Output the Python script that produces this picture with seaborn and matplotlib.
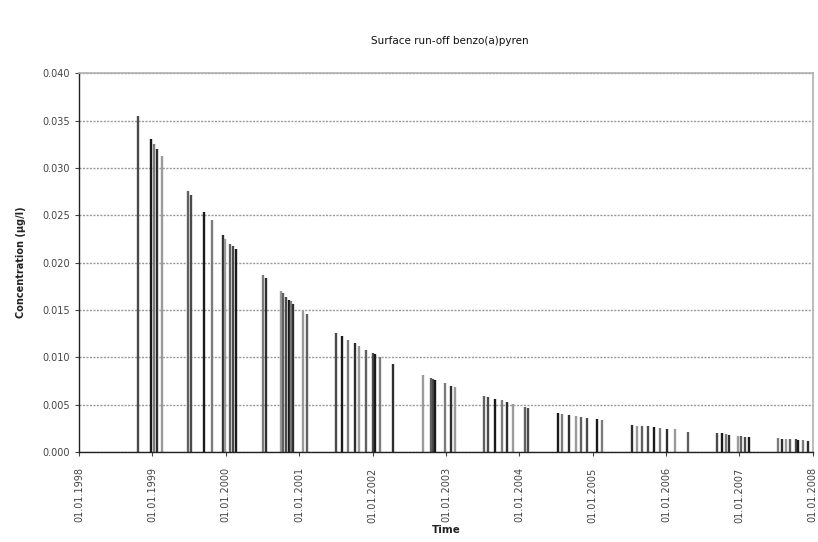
import matplotlib
matplotlib.use('Agg')
import matplotlib.pyplot as plt
import matplotlib.dates as mdates
from matplotlib.ticker import StrMethodFormatter
import seaborn as sns
import pandas as pd
import numpy as np

# Sampling dates and concentrations (ug/l)
dates = [
    '1998-10-20', '1998-12-25', '1999-01-08', '1999-01-26', '1999-02-16',
    '1999-06-26', '1999-07-11', '1999-09-16', '1999-10-23',
    '1999-12-17', '1999-12-28', '2000-01-24', '2000-02-05', '2000-02-21',
    '2000-07-06', '2000-07-19', '2000-10-02', '2000-10-14', '2000-10-27',
    '2000-11-09', '2000-11-21', '2000-12-02', '2001-01-21', '2001-02-07',
    '2001-07-03', '2001-07-31', '2001-08-30', '2001-10-04', '2001-10-27',
    '2001-11-27', '2002-01-01', '2002-01-13', '2002-02-09', '2002-04-14',
    '2002-09-07', '2002-10-17', '2002-10-30', '2002-11-10', '2002-12-27',
    '2003-01-25', '2003-02-15',
    '2003-07-09', '2003-07-31', '2003-09-02', '2003-10-05', '2003-10-30',
    '2003-12-02', '2004-01-29', '2004-02-15',
    '2004-07-12', '2004-08-03', '2004-09-05', '2004-10-09', '2004-11-03',
    '2004-12-01', '2005-01-22', '2005-02-15',
    '2005-07-13', '2005-08-07', '2005-09-01', '2005-10-04', '2005-11-01',
    '2005-12-01', '2006-01-05', '2006-02-14', '2006-04-18',
    '2006-09-12', '2006-10-06', '2006-10-24', '2006-11-11', '2006-12-27',
    '2007-01-08', '2007-01-28', '2007-02-18',
    '2007-07-13', '2007-07-31', '2007-08-20', '2007-09-09', '2007-10-09',
    '2007-10-20', '2007-11-11', '2007-12-06',
]
concentration = [
    0.0355, 0.0331, 0.0325, 0.0320, 0.0313,
    0.0276, 0.0271, 0.0253, 0.0245,
    0.0229, 0.0225, 0.0220, 0.0217, 0.0214,
    0.0187, 0.0184, 0.0170, 0.0168, 0.0164,
    0.0161, 0.0159, 0.0156, 0.0149, 0.0146,
    0.01255, 0.0122, 0.0118, 0.0115, 0.0112,
    0.0108, 0.0105, 0.0104, 0.0100, 0.0093,
    0.0081, 0.0078, 0.0077, 0.0076, 0.0073,
    0.0070, 0.0069,
    0.0059, 0.0058, 0.0056, 0.0055, 0.0053,
    0.0051, 0.0048, 0.0047,
    0.0041, 0.00405, 0.0039, 0.0038, 0.0037,
    0.0036, 0.00345, 0.0034,
    0.00285, 0.0028, 0.00278, 0.0027, 0.0026,
    0.00255, 0.00245, 0.0024, 0.0021,
    0.0020, 0.0020, 0.0019, 0.0018, 0.0017,
    0.0017, 0.00162, 0.00162,
    0.00144, 0.00142, 0.00137, 0.00137, 0.00135,
    0.0013, 0.00124, 0.0012,
]
year_ticks = [f'{y}-01-01' for y in range(1998, 2009)]

df = pd.DataFrame({'date': pd.to_datetime(dates), 'conc': concentration})

sns.set_style('white')
plt.rcParams['font.family'] = ['DejaVu Sans']

fig = plt.figure(figsize=(8.18, 5.42), dpi=100)
ax = fig.add_axes([0.0966, 0.166, 0.897, 0.699])

# gridlines first so spikes sit on top
ax.yaxis.grid(True, linestyle=(0, (1.5, 1)), color='#9a9a9a', linewidth=1.0)
ax.set_axisbelow(True)

# spikes drawn in mixed greys like the original export
greys = ['#4a4a4a', '#1a1a1a', '#7c7c7c', '#2e2e2e', '#9a9a9a', '#606060']
cols = [greys[i % len(greys)] for i in range(len(df))]
ax.vlines(df['date'], 0, df['conc'], colors=cols, linewidth=1.7)

ax.set_xlim(pd.Timestamp(year_ticks[0]), pd.Timestamp(year_ticks[-1]))
ax.set_ylim(0, 0.040)
ax.set_yticks(np.arange(0, 0.0401, 0.005))
ax.yaxis.set_major_formatter(StrMethodFormatter('{x:.3f}'))
ax.set_xticks(pd.to_datetime(year_ticks))
ax.xaxis.set_major_formatter(mdates.DateFormatter('%d.%m.%Y'))

for lbl in ax.get_xticklabels():
    lbl.set_rotation(90)
ax.tick_params(axis='both', labelsize=7, colors='#444444', length=3, width=0.8,
               direction='out', left=True, bottom=True)
ax.tick_params(axis='x', pad=8)

for side in ['left', 'bottom']:
    ax.spines[side].set_color('#222222')
    ax.spines[side].set_linewidth(1.0)
for side in ['top', 'right']:
    ax.spines[side].set_visible(True)
    ax.spines[side].set_color('#b0b0b0')
    ax.spines[side].set_linewidth(1.2)

ax.set_xlabel('Time', fontsize=7.5, fontweight='bold', color='#222222', labelpad=2)
ax.set_ylabel('Concentration (µg/l)', fontsize=7, fontweight='bold', color='#222222', labelpad=12)
fig.text(0.55, 0.925, 'Surface run-off benzo(a)pyren', ha='center', va='center',
         fontsize=7.5, color='#111111')

plt.savefig('out.png', dpi=100)
plt.close()
